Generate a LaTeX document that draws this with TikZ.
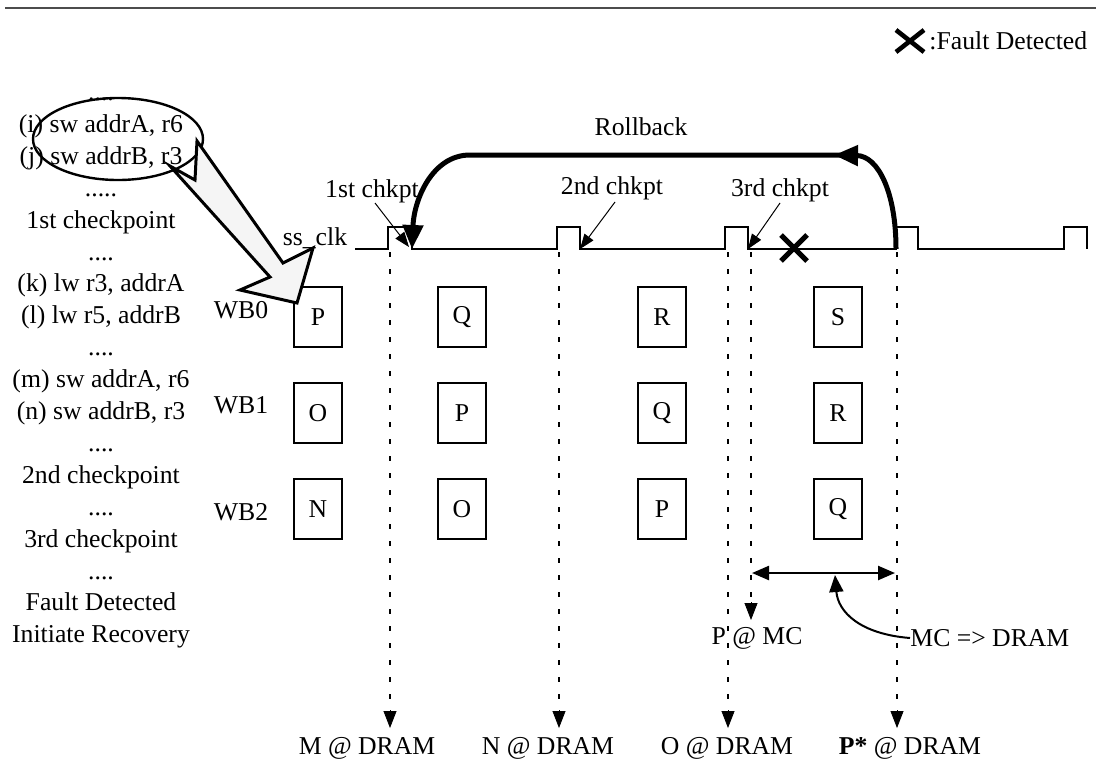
\documentclass[tikz,border=0pt]{standalone}
\usepackage{fontspec}
\setmainfont{Liberation Serif}
\usetikzlibrary{arrows.meta,shapes.geometric}
\begin{document}
\begin{tikzpicture}[x=0.5pt,y=-0.5pt,
  every node/.style={font=\fontsize{12.85}{15}\selectfont, inner sep=0pt},
  ln/.style={anchor=base},
  wb/.style={draw, line width=0.75pt, minimum width=24pt, minimum height=30pt},
  dots/.style={line width=1.1pt, dash pattern=on 2.5pt off 6pt},
  tip/.style={-{Triangle[length=8.5pt,width=6.5pt]}},
  dbl/.style={line width=1.2pt, {Triangle[length=8.5pt,width=7pt]}-{Triangle[length=8.5pt,width=7pt]}},
  pointer/.style={line width=0.5pt, -{Triangle[length=7.5pt,width=5.5pt]}},
  cross/.style={line width=2.5pt},
  roll/.style={line width=2.5pt, -{Triangle[length=12pt,width=10pt]}},
  clk/.style={line width=0.75pt}]
\useasboundingbox (0,0) rectangle (1096,761);

% top rule
\draw[line width=1pt, black!70] (5,8) -- (1096,8);

% legend
\coordinate (lx) at (910,41);
\draw[line width=2.3pt] (lx) ++(-14,-11) -- ++(28,22) (lx) ++(-14,11) -- ++(28,-22);
\node[anchor=west] (leg) at (929,41) {:Fault Detected};

% program listing
\node[ln] (l0)  at (101,100) {....};
\node[ln] (l1)  at (101,132) {(i) sw addrA, r6};
\node[ln] (l2)  at (101,164) {(j) sw addrB, r3};
\node[ln] (l3)  at (101,196) {.....};
\node[ln] (l4)  at (101,228) {1st checkpoint};
\node[ln] (l5)  at (101,260) {....};
\node[ln] (l6)  at (101,291) {(k) lw r3, addrA};
\node[ln] (l7)  at (101,323) {(l) lw r5, addrB};
\node[ln] (l8)  at (101,355) {....};
\node[ln] (l9)  at (101,387) {(m) sw addrA, r6};
\node[ln] (l10) at (101,419) {(n) sw addrB, r3};
\node[ln] (l11) at (101,451) {....};
\node[ln] (l12) at (101,483) {2nd checkpoint};
\node[ln] (l13) at (101,515) {....};
\node[ln] (l14) at (101,547) {3rd checkpoint};
\node[ln] (l15) at (101,579) {....};
\node[ln] (l16) at (101,610) {Fault Detected};
\node[ln] (l17) at (101,642) {Initiate Recovery};

% ellipse around stores
\node[ellipse, draw, line width=1.2pt, minimum width=85pt, minimum height=41pt] (sel) at (118,139) {};

% clock
\coordinate (c0) at (355,249);
\coordinate (e1) at (388,249); \coordinate (f1) at (412,249);
\coordinate (e2) at (557,249); \coordinate (f2) at (580,249);
\coordinate (e3) at (725,249); \coordinate (f3) at (748,249);
\coordinate (e4) at (896,249); \coordinate (f4) at (918,249);
\coordinate (e5) at (1064,249); \coordinate (f5) at (1087,249);
\draw[clk] (c0) -- (e1) -- ++(0,-22) -| (f1) -- (e2) -- ++(0,-22) -| (f2)
  -- (e3) -- ++(0,-22) -| (f3) -- (e4) -- ++(0,-22) -| (f4)
  -- (e5) -- ++(0,-22) -| (f5);
\node (ssclk) at (315,238) {ss\_clk};

% checkpoint labels
\node (ch1) at (372,191) {1st chkpt};
\node (ch2) at (612,188) {2nd chkpt};
\node (ch3) at (780,190) {3rd chkpt};
\coordinate (p1) at (375,203);
\coordinate (p2) at (615,202);
\coordinate (p3) at (780,203);
\draw[pointer] (p1) -- (409,247);
\draw[pointer] (p2) -- (f2);
\draw[pointer] (p3) -- (f3);

% rollback
\node (rb) at (641,127) {Rollback};
\coordinate (rtop) at (834,155);
\coordinate (ltop) at (470,155);
\draw[roll] (e4) .. controls (896,192) and (878,156) .. (rtop);
\draw[roll] (840,155) -- (ltop) .. controls (432,155) and (414,200) .. (f1);

% fault cross
\coordinate (fx) at (794,248);
\draw[cross] (fx) ++(-13,-13) -- ++(26,26) (fx) ++(-13,13) -- ++(26,-26);

% write buffer labels
\node (wb0) at (241,310) {WB0};
\node (wb1) at (241,405) {WB1};
\node (wb2) at (241,512) {WB2};

% buffer boxes
\node[wb] (a1) at (318,317) {P};
\node[wb] (a2) at (462,317) {Q};
\node[wb] (a3) at (662,317) {R};
\node[wb] (a4) at (838,317) {S};
\node[wb] (b1) at (318,413) {O};
\node[wb] (b2) at (462,413) {P};
\node[wb] (b3) at (662,413) {Q};
\node[wb] (b4) at (838,413) {R};
\node[wb] (c1) at (318,509) {N};
\node[wb] (c2) at (462,509) {O};
\node[wb] (c3) at (662,509) {P};
\node[wb] (c4) at (838,509) {Q};

% dotted drops
\coordinate (d1) at (390,252); \coordinate (g1) at (390,728);
\coordinate (d2) at (559,252); \coordinate (g2) at (559,728);
\coordinate (d3) at (728,252); \coordinate (g3) at (728,728);
\coordinate (d4) at (897,252); \coordinate (g4) at (897,728);
\coordinate (d5) at (751,252); \coordinate (g5) at (751,620);
\draw[dots] (d1) -- (390,712);
\draw[dots] (d2) -- (559,712);
\draw[dots] (d3) -- (728,712);
\draw[dots] (d4) -- (897,712);
\draw[dots] (d5) -- (751,604);
\draw[tip] (390,710) -- (g1);
\draw[tip] (559,710) -- (g2);
\draw[tip] (728,710) -- (g3);
\draw[tip] (897,710) -- (g4);
\draw[tip] (751,602) -- (g5);

% MC -> DRAM span
\coordinate (s1) at (752,573);
\coordinate (s2) at (895,573);
\coordinate (sm) at (835,575);
\draw[dbl] (s1) -- (s2);
\node (pmc) at (757,638) {P @ MC};
\node[anchor=west] (mcd) at (910,638) {MC => DRAM};
\draw[line width=1pt, -{Triangle[length=8.5pt,width=7pt]}] (mcd.west) .. controls (860,634) and (838,612) .. (sm);

% DRAM labels
\node (m1) at (367,748) {M @ DRAM};
\node (m2) at (548,748) {N @ DRAM};
\node (m3) at (727,748) {O @ DRAM};
\node (m4) at (910,748) {\textbf{P*} @ DRAM};

% big hollow arrow from the stores to WB0
\draw[line width=1.5pt, fill=black!4, line join=miter]
  (170,166) -- (195,180) -- (197,141) -- (283,263) -- (313,248) -- (297,303) -- (240,290) -- (270,277) -- cycle;
\end{tikzpicture}
\end{document}
